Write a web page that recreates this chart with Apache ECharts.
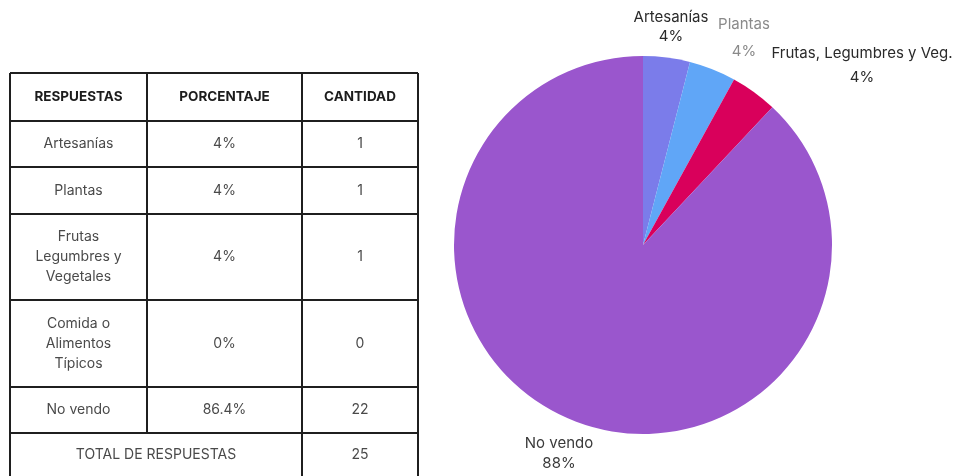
<!DOCTYPE html>
<html>
<head>
<meta charset="utf-8">
<script src="https://cdn.jsdelivr.net/npm/echarts@6/dist/echarts.min.js"></script>
<style>
  html, body { margin: 0; padding: 0; background: #ffffff; }
  #chart { width: 955px; height: 476px; }
</style>
</head>
<body>
<div id="chart"></div>
<script>
// Survey answers (table rows)
var headers = ['RESPUESTAS', 'PORCENTAJE', 'CANTIDAD'];
var answers = ['Artesanías', 'Plantas', 'Frutas\nLegumbres y\nVegetales', 'Comida o\nAlimentos\nTípicos', 'No vendo'];
var percents = ['4%', '4%', '4%', '0%', '86.4%'];
var counts = [1, 1, 1, 0, 22];
var totalLabel = 'TOTAL DE RESPUESTAS';
var totalCount = 25;

// Pie slices
var pieNames = ['Artesanías', 'Plantas', 'Frutas, Legumbres y Veg.', 'No vendo'];
var pieValues = [1, 1, 1, 22];
var pieColors = ['#7b7cea', '#60a6f7', '#d9005b', '#9a56cd'];

var chart = echarts.init(document.getElementById('chart'));

// ---- table built from graphic elements ----
var colX = [10, 147, 302, 418];
var rowY = [73, 121, 167, 214, 300, 387, 433, 478];
var fontFam = 'Inter, "DejaVu Sans", sans-serif';
var graphics = [];

function line(x1, y1, x2, y2) {
  graphics.push({
    type: 'line',
    shape: { x1: x1, y1: y1, x2: x2, y2: y2 },
    style: { stroke: '#1f1f1f', lineWidth: 2 }
  });
}
function cellText(txt, x1, x2, y1, y2, bold) {
  graphics.push({
    type: 'text',
    x: (x1 + x2) / 2,
    y: (y1 + y2) / 2,
    style: {
      text: String(txt),
      fill: bold ? '#1c1c1c' : '#4a4a4a',
      font: (bold ? 'bold 13.5px ' : '14px ') + fontFam,
      align: 'center',
      verticalAlign: 'middle',
      lineHeight: 20
    }
  });
}

// horizontal rules
for (var r = 0; r < rowY.length; r++) line(colX[0], rowY[r], colX[3], rowY[r]);
// vertical rules
line(colX[0], rowY[0], colX[0], rowY[rowY.length - 1]);
line(colX[3], rowY[0], colX[3], rowY[rowY.length - 1]);
line(colX[2], rowY[0], colX[2], rowY[rowY.length - 1]);
line(colX[1], rowY[0], colX[1], rowY[rowY.length - 2]);

// header
for (var c = 0; c < headers.length; c++) cellText(headers[c], colX[c], colX[c + 1], rowY[0], rowY[1], true);
// body rows
for (var i = 0; i < answers.length; i++) {
  cellText(answers[i], colX[0], colX[1], rowY[i + 1], rowY[i + 2], false);
  cellText(percents[i], colX[1], colX[2], rowY[i + 1], rowY[i + 2], false);
  cellText(counts[i], colX[2], colX[3], rowY[i + 1], rowY[i + 2], false);
}
// total row
cellText(totalLabel, colX[0], colX[2], rowY[6], 476, false);
cellText(totalCount, colX[2], colX[3], rowY[6], 476, false);

// label anchor offsets (relative to pie centre) and line spacing for each slice label
var labelSpots = [[28, -218], [101, -207], [219, -180], [-84, 208]];
var labelGaps = [19, 27, 24, 20];
var labelFills = ['#2a2a2a', '#8a8a8a', '#2a2a2a', '#3a3a3a'];

var pieData = pieNames.map(function (n, k) {
  var st = { color: labelFills[k], fontSize: 15, fontFamily: fontFam, lineHeight: labelGaps[k], align: 'center' };
  return {
    name: n,
    value: pieValues[k],
    itemStyle: { color: pieColors[k] },
    label: { color: labelFills[k], rich: { n: st, p: st } }
  };
});

var center = [643, 245];

chart.setOption({
  animation: false,
  graphic: graphics,
  series: [{
    type: 'pie',
    center: center,
    radius: 189,
    startAngle: 90,
    clockwise: true,
    data: pieData,
    label: {
      show: true,
      position: 'outside',
      overflow: 'none',
      formatter: function (p) { return '{n|' + p.name + '}\n{p|' + Math.round(p.percent) + '%}'; },
      fontFamily: fontFam,
      fontSize: 15,
      align: 'center'
    },
    labelLine: { show: false },
    labelLayout: function (params) {
      var s = labelSpots[params.dataIndex];
      return { x: center[0] + s[0], y: center[1] + s[1], align: 'center', verticalAlign: 'middle' };
    },
    itemStyle: { borderWidth: 0 },
    emphasis: { disabled: true }
  }]
});
</script>
</body>
</html>
